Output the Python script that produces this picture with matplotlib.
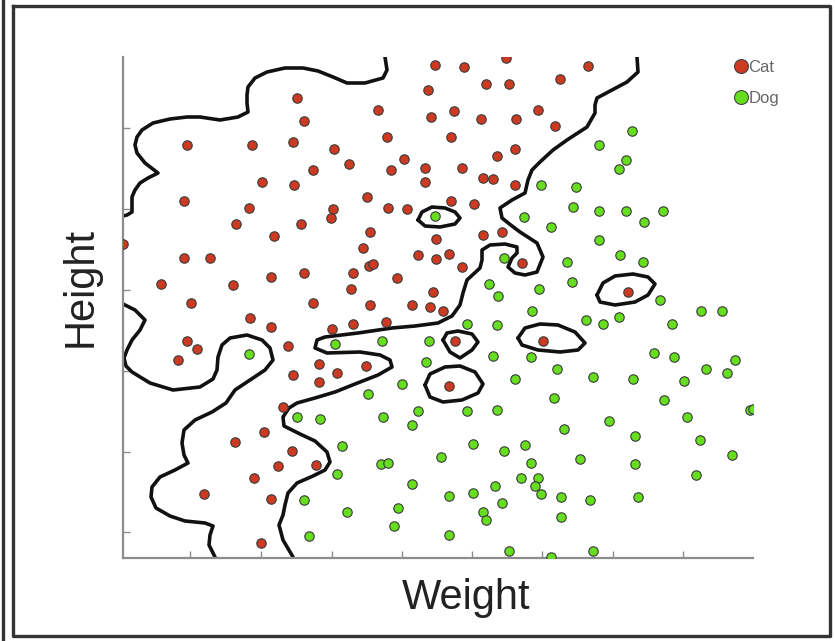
import matplotlib
matplotlib.use('Agg')
import matplotlib.pyplot as plt
from matplotlib.lines import Line2D

plt.rcParams['font.family'] = ['Liberation Sans', 'DejaVu Sans']

# ---------------- data (Weight, Height in arbitrary units) ----------------
cat_x = [174, 181, 64, 129, 170, 211, 190, 139, 171, 61, 126, 113, 178, 210, 208, 151, 0, 61, 87, 38,
         110, 148, 181, 68, 190, 127, 148, 64, 74, 55, 209, 165, 196, 170, 196, 160, 141, 112, 169, 155,
         193, 131, 81, 148, 138, 312, 341, 383, 305, 363, 386, 255, 308, 331, 358, 393, 415, 264, 328, 226,
         281, 268, 302, 339, 374, 392, 302, 360, 370, 392, 244, 265, 284, 328, 351, 247, 240, 313, 360, 379,
         246, 250, 295, 313, 326, 399, 339, 230, 274, 228, 310, 247, 289, 307, 320, 230, 263, 332, 214, 243,
         326, 420, 465, 437, 432, 505]
cat_y = [460, 437, 413, 413, 416, 409, 388, 376, 373, 357, 350, 334, 334, 349, 340, 322, 314, 300, 300, 274,
         273, 281, 285, 255, 255, 240, 231, 217, 209, 198, 229, 212, 194, 183, 176, 151, 126, 116, 107, 92,
         93, 80, 64, 59, 15, 493, 491, 500, 468, 474, 474, 448, 441, 447, 439, 439, 448, 421, 421, 394,
         399, 388, 390, 390, 402, 409, 376, 380, 379, 373, 361, 350, 349, 357, 354, 326, 310, 319, 323, 326,
         292, 294, 303, 299, 304, 295, 291, 285, 280, 269, 266, 253, 253, 251, 247, 234, 236, 217, 185, 192,
         172, 217, 492, 479, 432, 266]

dog_x = [312, 401, 418, 381, 366, 375, 416, 509, 476, 503, 496, 453, 450, 476, 503, 521, 540, 428, 476, 497,
         520, 444, 449, 537, 126, 174, 197, 181, 186, 212, 259, 306, 344, 374, 409, 303, 279, 245, 370, 408,
         392, 295, 260, 289, 344, 374, 219, 258, 265, 318, 350, 381, 402, 408, 214, 289, 326, 350, 372, 398,
         415, 412, 418, 379, 224, 275, 271, 360, 363, 326, 386, 463, 480, 496, 578, 599, 549, 531, 551, 612,
         583, 604, 561, 434, 470, 510, 431, 541, 627, 630, 564, 441, 486, 512, 577, 609, 457, 512, 573, 438,
         467, 515, 438, 470, 428]
dog_y = [342, 341, 373, 300, 274, 262, 269, 427, 413, 398, 389, 371, 351, 347, 347, 336, 347, 331, 318, 303,
         296, 296, 276, 258, 204, 141, 139, 58, 22, 214, 217, 217, 234, 233, 247, 196, 174, 164, 202, 201,
         179, 147, 141, 133, 147, 148, 112, 94, 95, 101, 114, 107, 113, 95, 84, 74, 62, 65, 72, 80,
         80, 72, 64, 55, 46, 50, 32, 46, 38, 23, 7, 238, 234, 241, 247, 247, 234, 205, 201, 198,
         189, 185, 177, 189, 181, 179, 160, 158, 148, 149, 141, 129, 137, 122, 118, 103, 99, 94, 83, 61,
         58, 61, 41, 7, 1]

# decision boundary curves
bound_a_x = [262, 264, 260, 242, 224, 210, 195, 180, 162, 144, 132, 125, 124, 124, 125, 115, 97, 77, 64, 47,
             30, 19, 14, 12, 14, 22, 35, 25, 17, 12, 9, 9, 9, 4, 0]
bound_a_y = [501, 488, 480, 475, 475, 481, 487, 490, 490, 486, 480, 471, 463, 455, 446, 441, 438, 441, 441, 439,
             435, 428, 421, 413, 405, 395, 385, 380, 375, 368, 361, 353, 346, 343, 342]

bound_b_x = [514, 515, 504, 489, 474, 472, 472, 464, 444, 430, 417, 409, 405, 402, 389, 377, 379, 389, 397, 414,
             420, 414, 402, 392, 385, 389, 394, 394, 382, 367, 359, 359, 357, 344, 340, 337, 329, 315, 292, 269,
             235, 202, 194, 192, 204, 237, 257, 267, 269, 255, 232, 212, 192, 174, 166, 160, 161, 177, 192, 204,
             207, 202, 190, 174, 165, 162, 160, 156, 160, 170]
bound_b_y = [501, 486, 476, 468, 460, 453, 445, 431, 418, 408, 396, 388, 378, 365, 358, 350, 340, 332, 326, 315,
             301, 286, 283, 285, 291, 300, 305, 311, 314, 313, 308, 298, 290, 278, 265, 253, 242, 235, 232, 230,
             225, 221, 218, 210, 205, 206, 203, 198, 191, 183, 174, 166, 160, 155, 150, 141, 132, 124, 117, 106,
             96, 88, 82, 75, 65, 53, 43, 33, 18, 1]

bound_c_x = [0, 12, 22, 17, 9, 4, 1, 3, 9, 27, 50, 77, 90, 94, 95, 99, 107, 124, 139, 147,
             150, 142, 127, 112, 103, 89, 72, 61, 59, 61, 65, 52, 37, 29, 28, 33, 47, 62, 82, 90,
             87, 86, 92]
bound_c_y = [254, 248, 238, 228, 218, 208, 200, 192, 186, 175, 168, 171, 179, 188, 201, 213, 220, 223, 218, 210,
             198, 188, 178, 168, 155, 146, 138, 128, 115, 103, 95, 88, 81, 71, 61, 50, 42, 37, 35, 32,
             23, 13, 1]

loops_x = [
    [295, 299, 309, 322, 332, 337, 332, 317, 302, 295],
    [474, 480, 492, 510, 525, 532, 525, 512, 492, 477, 474],
    [395, 402, 417, 435, 452, 462, 455, 437, 415, 399, 395],
    [320, 324, 335, 349, 355, 349, 337, 327, 320],
    [302, 307, 322, 337, 352, 360, 355, 339, 320, 307, 302],
]
loops_y = [
    [338, 346, 351, 350, 346, 340, 334, 331, 332, 338],
    [263, 275, 282, 284, 281, 274, 263, 256, 253, 256, 263],
    [220, 230, 234, 233, 226, 215, 208, 206, 208, 213, 220],
    [218, 225, 227, 224, 216, 208, 200, 206, 218],
    [173, 184, 191, 192, 186, 174, 165, 158, 156, 161, 173],
]

x_ticks = [67, 138, 209, 279, 349, 419, 490, 560]
y_ticks = [26, 106, 187, 268, 349, 430]
labels = ['Cat', 'Dog']
colors = ['#cc3a22', '#66dd1e']

# ---------------- figure ----------------
W, H = 835, 641
fig = plt.figure(figsize=(W / 100, H / 100), dpi=100)
fig.patch.set_facecolor('white')
ax = fig.add_axes([123 / W, 83 / H, 630 / W, 501 / H])
ax.set_xlim(0, 630)
ax.set_ylim(0, 501)

for s in ['top', 'right']:
    ax.spines[s].set_visible(False)
for s in ['left', 'bottom']:
    ax.spines[s].set_color('#8c8c8c')
    ax.spines[s].set_linewidth(1.6)
ax.set_xticks(x_ticks)
ax.set_yticks(y_ticks)
ax.tick_params(direction='in', length=5, width=1, color='#8c8c8c',
               labelbottom=False, labelleft=False)

line_kw = dict(color='#111111', lw=2.6, solid_joinstyle='round', solid_capstyle='round', zorder=2)
ax.plot(bound_a_x, bound_a_y, **line_kw)
ax.plot(bound_b_x, bound_b_y, **line_kw)
ax.plot(bound_c_x, bound_c_y, **line_kw)
for lx, ly in zip(loops_x, loops_y):
    ax.plot(lx, ly, **line_kw)

ax.scatter(cat_x, cat_y, s=46, c=colors[0], edgecolors='#3a3a3a', linewidths=0.8, zorder=3)
ax.scatter(dog_x, dog_y, s=46, c=colors[1], edgecolors='#3a3a3a', linewidths=0.8, zorder=3)

handles = [Line2D([], [], marker='o', ls='none', markersize=10, markerfacecolor=c,
                  markeredgecolor='#444444', markeredgewidth=0.8) for c in colors]
leg = ax.legend(handles, labels, loc='upper left', bbox_to_anchor=(735 / W, 1 - 60 / H),
                bbox_transform=fig.transFigure, frameon=False, fontsize=12,
                handlelength=0.7, handletextpad=0.1, labelspacing=0.95, borderpad=0,
                borderaxespad=0)
for t in leg.get_texts():
    t.set_color('#666666')

fig.text(466 / W, 1 - 598 / H, 'Weight', ha='center', va='center', fontsize=30, color='#222222')
fig.text(81 / W, 1 - 287 / H, 'Height', ha='center', va='center', fontsize=30, color='#222222',
         rotation=90)

# outer frame
frame_kw = dict(color='#333333', lw=2.4, transform=fig.transFigure)
fig.add_artist(Line2D([13 / W, 830 / W, 830 / W, 13 / W, 13 / W],
                      [1 - 6 / H, 1 - 6 / H, 1 - 636 / H, 1 - 636 / H, 1 - 6 / H], **frame_kw))
fig.add_artist(Line2D([3 / W, 3 / W], [0, 1], **frame_kw))

fig.savefig('out.png', dpi=100, facecolor='white')
